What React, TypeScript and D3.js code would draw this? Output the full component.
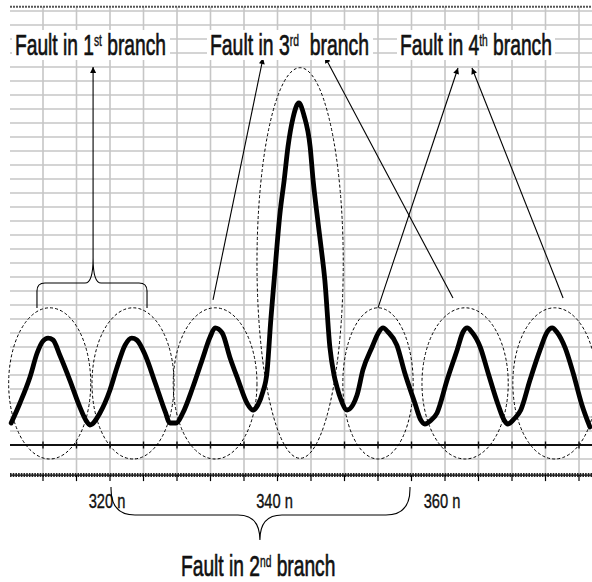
import React from 'react';
import * as d3 from 'd3';

const W = 592;
const H = 582;

// waveform: time in ns, level in grid rows above the baseline
const timeNs = [
  308.2, 309.25, 310.45, 311.3, 312.0, 312.6, 313.2, 314.0, 315.2, 316.4, 317.1, 317.6,
  318.8, 320.0, 320.85, 321.8, 322.6, 323.2, 324.2, 325.4, 326.6, 327.15, 327.9,
  328.7, 329.9, 331.0, 331.95, 332.55, 333.4, 334.3, 335.3, 336.35, 337.05,
  337.65, 338.25, 338.75, 339.2, 339.6, 340.3, 340.8, 341.25, 341.85, 342.55,
  343.15, 343.9, 344.25, 344.7, 345.2, 345.65, 346.25, 346.75, 347.1, 347.6, 348.3,
  349.5, 350.2, 351.3, 352.1, 352.6, 353.2, 354.25, 355.2, 356.4, 357.1, 357.6,
  358.2, 359.05, 360.25, 361.45, 362.15, 362.65, 363.2, 364.2, 365.15, 366.35, 367.05, 367.5,
  368.25, 369.05, 370.15, 371.35, 372.2, 372.8, 373.35, 374.35, 375.3, 376.35, 377.3,
];
const volts = [
  1.57, 3.0, 4.86, 6.57, 7.43, 7.64, 7.5, 6.43, 4.64, 2.71, 1.79, 1.43,
  2.29, 3.93, 5.57, 7.14, 7.64, 7.5, 6.43, 4.43, 2.36, 1.57, 1.57,
  2.29, 4.14, 6.07, 7.71, 8.36, 8.0, 6.29, 4.64, 3.0, 2.5,
  2.86, 3.79, 5.21, 8.93, 11.79, 16.57, 18.93, 21.29, 23.36, 24.43,
  23.57, 21.29, 18.93, 16.57, 14.14, 11.79, 7.0, 5.0, 4.14, 3.21, 2.5,
  3.57, 5.36, 7.0, 8.07, 8.36, 8.07, 7.14, 5.14, 3.0, 1.79, 1.5,
  1.71, 2.29, 4.64, 6.79, 8.07, 8.36, 8.07, 7.0, 5.14, 2.86, 1.79, 1.5,
  1.86, 2.5, 4.64, 6.79, 8.07, 8.36, 8.07, 6.93, 5.14, 2.86, 1.29,
];

const tickValues = [320, 340, 360];
const tickLabels = ['320 n', '340 n', '360 n'];

// dashed rings round each pulse: centre time, centre level, half width (ns), half height
const ringT = [312.8, 322.75, 332.55, 342.7, 352.0, 362.4, 373.1];
const ringV = [4.4, 4.4, 4.4, 13.0, 4.4, 4.4, 4.4];
const ringRx = [4.9, 4.9, 5.0, 5.15, 4.2, 5.15, 5.0];
const ringRy = [5.4, 5.4, 5.4, 13.95, 5.4, 5.4, 5.4];

// arrows: from (t, v) to (t, v)
const arrowFromT = [317.98, 332.3, 360.95, 352.0, 374.1];
const arrowFromV = [13.36, 10.36, 10.5, 9.79, 10.5];
const arrowToT = [317.98, 338.27, 345.67, 361.55, 363.22];
const arrowToV = [27.0, 27.64, 27.71, 26.93, 26.93];

const FONT = '"Liberation Sans", Arial, sans-serif';

const x = d3.scaleLinear().domain([308, 376]).range([9.5, 579]);
const y = d3.scaleLinear().domain([0, 30]).range([445, 25]);

const PLOT_TOP = 31.3;
const PLOT_BOTTOM = -2.15;

function bracePath(x1: number, x2: number, xm: number, yEnd: number, yBar: number, yTip: number, rc: number, rv: number, rt: number) {
  const s = yEnd > yBar ? 1 : -1;
  return `M${x1},${yEnd} L${x1},${yBar + s * rv} Q${x1},${yBar} ${x1 + rc},${yBar} L${xm - rt},${yBar} Q${xm},${yBar} ${xm},${yTip} Q${xm},${yBar} ${xm + rt},${yBar} L${x2 - rc},${yBar} Q${x2},${yBar} ${x2},${yBar + s * rv} L${x2},${yEnd}`;
}

const Title = ({ px, py, pre, sup, post, sx }: { px: number; py: number; pre: string; sup: string; post: string; sx: number }) => (
  <text
    transform={`translate(${px},${py}) scale(${sx},1)`}
    fontFamily={FONT}
    fontSize={30}
    fill="#111"
    stroke="#111"
    strokeWidth={0.7}
    style={{ whiteSpace: 'pre' }}
  >
    {pre}
    <tspan fontSize={16} dy={-9} strokeWidth={0.4}>{sup}</tspan>
    <tspan dy={9}>{post}</tspan>
  </text>
);

export default function App() {
  const pts = timeNs.map((t, i) => [t, volts[i]] as [number, number]);
  const line = d3
    .line<[number, number]>()
    .x((d) => x(d[0]))
    .y((d) => y(d[1]))
    .curve(d3.curveMonotoneX);

  const vGrid = d3.range(312, 377, 4);
  const hGrid = d3.range(-1, 32, 1);
  const xLeft = 10;
  const xRight = W;

  return (
    <svg width={W} height={H} style={{ position: 'absolute', left: 0, top: 0, background: '#fff' }}>
      <defs>
        <marker id="head" viewBox="0 0 10 10" refX={10} refY={5} markerWidth={9} markerHeight={6} markerUnits="userSpaceOnUse" orient="auto">
          <path d="M0,0 L10,5 L0,10 z" fill="#000" />
        </marker>
      </defs>
      <rect width={W} height={H} fill="#fff" />

      {/* grid */}
      <g stroke="#c6c6c6" strokeWidth={1.6}>
        {hGrid.map((v) => (
          <line key={'h' + v} x1={xLeft} x2={xRight} y1={y(v)} y2={y(v)} />
        ))}
        {vGrid.map((t) => (
          <line key={'v' + t} x1={x(t)} x2={x(t)} y1={y(PLOT_TOP)} y2={y(PLOT_BOTTOM)} />
        ))}
      </g>

      {/* top and bottom frame */}
      <line x1={xLeft} x2={xRight} y1={y(PLOT_TOP)} y2={y(PLOT_TOP)} stroke="#555" strokeWidth={2} strokeDasharray="2,1" />
      <line x1={xLeft} x2={xRight} y1={y(PLOT_BOTTOM)} y2={y(PLOT_BOTTOM)} stroke="#000" strokeWidth={1.2} />
      <line x1={xLeft} x2={xRight} y1={y(PLOT_BOTTOM)} y2={y(PLOT_BOTTOM)} stroke="#222" strokeWidth={4} strokeDasharray="1.6,1.1" />
      <g stroke="#000" strokeWidth={1.2}>
        {vGrid.map((t) => (
          <line key={'bt' + t} x1={x(t)} x2={x(t)} y1={y(PLOT_BOTTOM)} y2={y(PLOT_BOTTOM) + 6} />
        ))}
      </g>

      {/* zero line */}
      <line x1={xLeft} x2={xRight} y1={y(0)} y2={y(0)} stroke="#111" strokeWidth={1.8} />
      <g stroke="#111" strokeWidth={1.4}>
        {vGrid.map((t) => (
          <line key={'zt' + t} x1={x(t)} x2={x(t)} y1={y(0) - 3.5} y2={y(0) + 3.5} />
        ))}
      </g>

      {/* tick labels */}
      {tickValues.map((t, i) => (
        <text
          key={t}
          transform={`translate(${x(t) - 3},508) scale(0.7,1)`}
          textAnchor="middle"
          fontFamily={FONT}
          fontSize={21}
          fill="#111"
          stroke="#111"
          strokeWidth={0.4}
          style={{ whiteSpace: 'pre' }}
        >
          {tickLabels[i]}
        </text>
      ))}

      {/* dashed rings */}
      <g fill="none" stroke="#000" strokeWidth={1} strokeDasharray="3,2.2">
        {ringT.map((t, i) => (
          <ellipse
            key={i}
            cx={x(t)}
            cy={y(ringV[i])}
            rx={x(t + ringRx[i]) - x(t)}
            ry={y(ringV[i] - ringRy[i]) - y(ringV[i])}
          />
        ))}
      </g>

      {/* waveform */}
      <path d={line(pts) || ''} fill="none" stroke="#000" strokeWidth={4.8} strokeLinejoin="round" strokeLinecap="round" />

      {/* arrows */}
      <g stroke="#000" strokeWidth={1.1}>
        {arrowFromT.map((t, i) => (
          <line key={i} x1={x(t)} y1={y(arrowFromV[i])} x2={x(arrowToT[i])} y2={y(arrowToV[i])} markerEnd="url(#head)" />
        ))}
      </g>

      {/* braces */}
      <g fill="none" stroke="#000" strokeWidth={1.1}>
        <path d={bracePath(x(311.28), x(324.42), x(317.98), y(9.79), y(11.57), y(13.36), 8, 8, 8)} />
        <path d={bracePath(x(320.12), x(355.82), x(337.9), y(-3.0), y(-5.0), y(-6.79), 24, 26, 22)} />
      </g>

      {/* annotation text */}
      <rect x={12} y={30} width={158} height={30} fill="#fff" />
      <rect x={207} y={30} width={166} height={30} fill="#fff" />
      <rect x={397} y={30} width={158} height={30} fill="#fff" />
      <Title px={15} py={55} pre="Fault in 1" sup="st" post=" branch" sx={0.64} />
      <Title px={210} py={55} pre="Fault in 3" sup="rd" post="  branch" sx={0.646} />
      <Title px={400} py={55} pre="Fault in 4" sup="th" post=" branch" sx={0.642} />
      <Title px={181} py={576} pre="Fault in 2" sup="nd" post=" branch" sx={0.64} />
    </svg>
  );
}
